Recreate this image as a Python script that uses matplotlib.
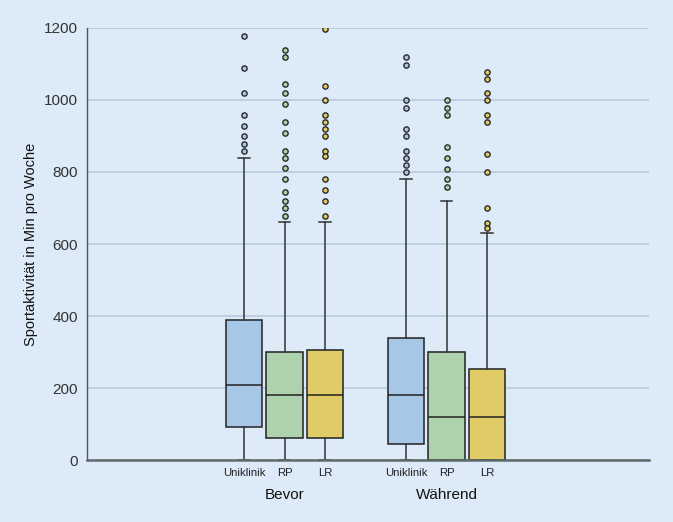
import matplotlib
matplotlib.use("Agg")
import matplotlib.pyplot as plt
from matplotlib.transforms import blended_transform_factory

plt.rcParams['font.family'] = ['Liberation Sans', 'DejaVu Sans']

groups = ["Bevor", "Während"]
sites = ["Uniklinik", "RP", "LR"]
colors = ["#a7c7e7", "#aed2ae", "#e0cb66"]

# per group, per site: (whisker_low, Q1, median, Q3, whisker_high)
stats = {
    ("Bevor", "Uniklinik"): (0, 92, 208, 389, 840),
    ("Bevor", "RP"): (0, 61, 180, 300, 660),
    ("Bevor", "LR"): (0, 61, 180, 306, 660),
    ("Während", "Uniklinik"): (0, 45, 180, 340, 780),
    ("Während", "RP"): (0, 0, 120, 300, 720),
    ("Während", "LR"): (0, 0, 120, 254, 630),
}
outliers = {
    ("Bevor", "Uniklinik"): [1179, 1089, 1019, 958, 929, 899, 879, 858],
    ("Bevor", "RP"): [1138, 1119, 1044, 1019, 989, 939, 909, 858, 840, 810, 780, 744, 719, 699, 679],
    ("Bevor", "LR"): [1198, 1038, 999, 958, 939, 919, 899, 858, 844, 780, 749, 719, 679],
    ("Während", "Uniklinik"): [1119, 1098, 999, 978, 919, 899, 858, 840, 819, 799],
    ("Während", "RP"): [999, 979, 958, 869, 840, 809, 780, 759],
    ("Während", "LR"): [1079, 1058, 1019, 999, 959, 939, 849, 799, 699, 659, 644],
}

bg = "#ddeaf7"
fig = plt.figure(figsize=(6.73, 5.22), dpi=100, facecolor=bg)
ax = fig.add_axes([87/673, 1-460/522, (649-87)/673, (460-28)/522])
ax.set_facecolor(bg)

bxp = []
positions = []
facecols = []
for gi, g in enumerate(groups):
    for si, s in enumerate(sites):
        wl, q1, med, q3, wh = stats[(g, s)]
        bxp.append(dict(whislo=wl, q1=q1, med=med, q3=q3, whishi=wh,
                        fliers=outliers[(g, s)], label=s))
        positions.append(gi * 4 + si)
        facecols.append(colors[si])

res = ax.bxp(bxp, positions=positions, widths=0.89, patch_artist=True,
             showfliers=True, manage_ticks=False,
             boxprops=dict(edgecolor="#222222", linewidth=1.1),
             medianprops=dict(color="#222222", linewidth=1.1),
             whiskerprops=dict(color="#333333", linewidth=1.1),
             capprops=dict(color="#333333", linewidth=1.1),
             capwidths=0.28)
for patch, fc in zip(res['boxes'], facecols):
    patch.set_facecolor(fc)
for fl, fc in zip(res['fliers'], facecols):
    fl.set(marker='o', markersize=3.8, markerfacecolor=fc,
           markeredgecolor="#2a2a2a", markeredgewidth=1.0, linestyle='none')
for art in res['boxes'] + res['medians'] + res['whiskers'] + res['caps'] + res['fliers']:
    art.set_zorder(3)

ax.set_xlim(-3.877, 10.0)
ax.set_ylim(0, 1200)
ax.set_yticks(range(0, 1201, 200))
ax.yaxis.grid(True, color="#bfcfdf", linewidth=1.4)
ax.set_axisbelow(True)
for sp in ["top", "right"]:
    ax.spines[sp].set_visible(False)
ax.spines["left"].set_color("#555555")
ax.spines["left"].set_linewidth(1.0)
ax.spines["bottom"].set_color("#5f6b6b")
ax.spines["bottom"].set_linewidth(1.8)
ax.spines["bottom"].set_zorder(4)
ax.tick_params(axis='y', length=0, pad=6.5, labelsize=11, labelcolor="#333333")
ax.set_xticks(positions)
ax.set_xticklabels([sites[p % 4] for p in positions], fontsize=8.2, color="#222222")
ax.tick_params(axis='x', length=0, pad=6)
ax.set_ylabel("Sportaktivität in Min pro Woche", fontsize=10.5, color="#111111", labelpad=4)

trans = blended_transform_factory(ax.transData, ax.transAxes)
for gi, g in enumerate(groups):
    ax.text(gi * 4 + 1, -0.08, g, transform=trans, ha='center', va='center',
            fontsize=11, color="#111111")

fig.savefig("out.png", dpi=100, facecolor=bg)
